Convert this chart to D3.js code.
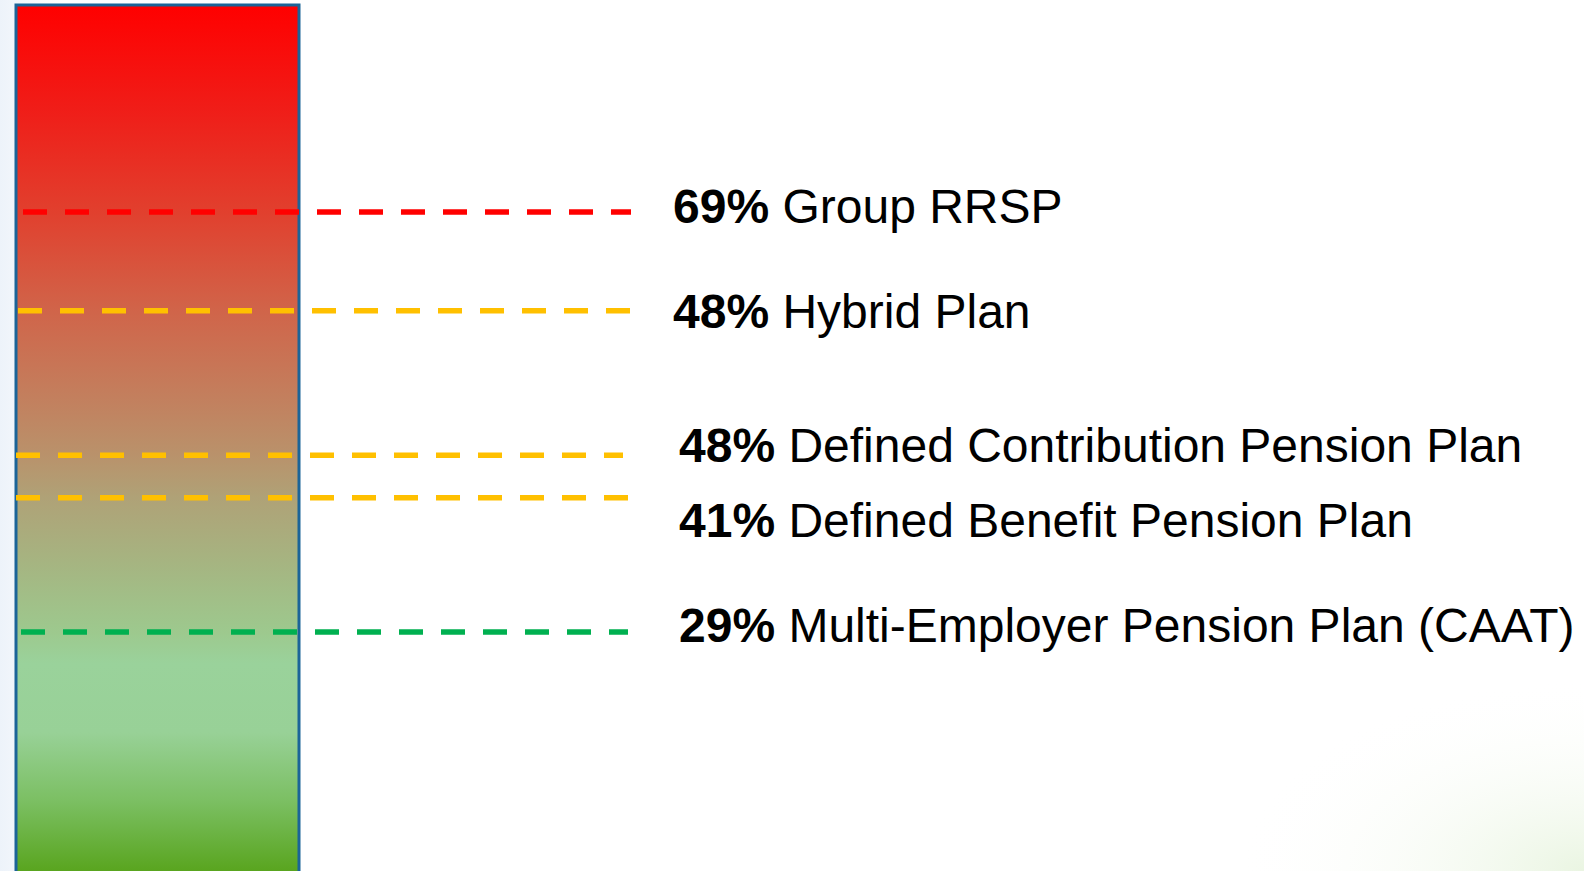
<!DOCTYPE html>
<html>
<head>
<meta charset="utf-8">
<script src="https://cdn.jsdelivr.net/npm/d3@7"></script>
<style>
  html, body { margin: 0; padding: 0; background: #fff; }
  text { font-family: 'Liberation Sans', Arial, sans-serif; }
</style>
</head>
<body>
<div id="chart"></div>
<script>
// plan types and the share for each one
let plans = ['Group RRSP', 'Hybrid Plan', 'Defined Contribution Pension Plan', 'Defined Benefit Pension Plan', 'Multi-Employer Pension Plan (CAAT)']
let shares = [69, 48, 48, 41, 29]
// where each marker sits on the meter (0 = bottom, 100 = top)
let levels = [76.1, 64.7, 48.0, 43.1, 27.6]
let lineColors = ['#ff0000', '#ffc000', '#ffc000', '#ffc000', '#00b050']

let width = 1584
let height = 871

let svg = d3
  .select('#chart')
  .append('svg')
  .attr('width', width)
  .attr('height', height)

let defs = svg.append('defs')

// background tints
let bgLeft = defs.append('linearGradient').attr('id', 'bg-left')
  .attr('x1', 0).attr('x2', 1).attr('y1', 0).attr('y2', 0)
bgLeft.append('stop').attr('offset', 0).attr('stop-color', '#edf3fa')
bgLeft.append('stop').attr('offset', 0.04).attr('stop-color', '#ffffff')

let bgCorner = defs.append('radialGradient').attr('id', 'bg-corner')
  .attr('cx', 1).attr('cy', 1).attr('r', 0.22)
bgCorner.append('stop').attr('offset', 0).attr('stop-color', '#eaf5e2')
bgCorner.append('stop').attr('offset', 1).attr('stop-color', '#ffffff').attr('stop-opacity', 0)

svg.append('rect').attr('width', width).attr('height', height).attr('fill', 'url(#bg-left)')
svg.append('rect').attr('width', width).attr('height', height).attr('fill', 'url(#bg-corner)')

// meter fill, red at the top fading to green at the bottom
let meterTop = 5
let meterBottom = height
let meterGrad = defs.append('linearGradient').attr('id', 'meter')
  .attr('gradientUnits', 'userSpaceOnUse')
  .attr('x1', 0).attr('x2', 0).attr('y1', meterTop).attr('y2', meterBottom)

let stops = [
  [0, '#ff0000'],
  [0.12, '#f01d18'],
  [0.24, '#e1402e'],
  [0.355, '#d0654a'],
  [0.46, '#c2815f'],
  [0.52, '#b9926b'],
  [0.57, '#afa277'],
  [0.65, '#a5b682'],
  [0.725, '#9dc98e'],
  [0.76, '#9ad29b'],
  [0.84, '#98d197'],
  [0.92, '#7bbf62'],
  [1, '#59a51f']
]
stops.forEach(s => {
  meterGrad.append('stop').attr('offset', s[0]).attr('stop-color', s[1])
})

let y = d3.scaleLinear().domain([0, 100]).range([meterBottom, meterTop])

svg
  .append('rect')
  .attr('x', 16)
  .attr('y', meterTop)
  .attr('width', 283)
  .attr('height', meterBottom - meterTop + 10)
  .attr('fill', 'url(#meter)')
  .attr('stroke', '#1b6498')
  .attr('stroke-width', 3)

// dashed markers, slightly different start/end per line like the original
let lineStart = [23, 18, 16, 16, 21]
let lineEnd = [631, 630, 623, 628, 628]

svg
  .selectAll('.marker')
  .data(levels)
  .enter()
  .append('line')
  .attr('class', 'marker')
  .attr('x1', (d, i) => lineStart[i])
  .attr('x2', (d, i) => lineEnd[i])
  .attr('y1', d => y(d))
  .attr('y2', d => y(d))
  .attr('stroke', (d, i) => lineColors[i])
  .attr('stroke-width', 5.5)
  .attr('stroke-dasharray', '24 18')

// labels sit a little below their marker
let labelX = [673, 673, 679, 679, 679]
let labelNudge = [11, 17, 7, 39, 10]

let labels = svg
  .selectAll('.label')
  .data(plans)
  .enter()
  .append('text')
  .attr('class', 'label')
  .attr('x', (d, i) => labelX[i])
  .attr('y', (d, i) => y(levels[i]) + labelNudge[i])
  .attr('font-size', 48)
  .attr('fill', '#000')

labels
  .append('tspan')
  .attr('font-weight', 'bold')
  .text((d, i) => shares[i] + '%')

labels
  .append('tspan')
  .text(d => ' ' + d)
</script>
</body>
</html>
